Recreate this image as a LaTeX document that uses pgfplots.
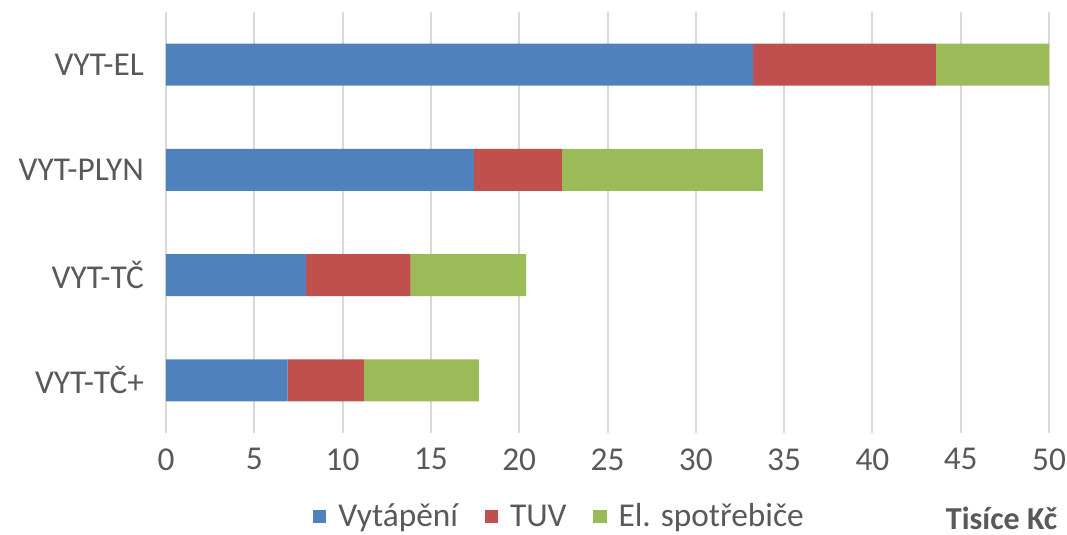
\documentclass[border=0pt]{standalone}
\usepackage{pgfplots}
\pgfplotsset{compat=1.18}
\usepackage{fontspec}
\setmainfont{Carlito}
\definecolor{cblue}{HTML}{4F81BD}
\definecolor{cred}{HTML}{C0504D}
\definecolor{cgreen}{HTML}{9BBB59}
\definecolor{cgrid}{HTML}{D9D9D9}
\definecolor{ctext}{HTML}{595959}
\begin{document}
\begin{tikzpicture}
\clip (-124.5pt,-76.5pt) rectangle (675.75pt,324.75pt);
\begin{axis}[
  at={(0,0)}, anchor=south west,
  scale only axis,
  width=662.25pt, height=315.75pt,
  xbar stacked,
  bar width=31.5pt,
  xmin=0, xmax=50,
  ymin=-0.5, ymax=3.5,
  y dir=reverse,
  ytick={0,1,2,3},
  yticklabels={VYT-EL,VYT-PLYN,VYT-TČ,VYT-TČ+},
  xtick={0,5,...,50},
  xmajorgrids,
  grid style={cgrid, line width=1.5pt},
  axis line style={draw=none},
  major tick length=0pt,
  tick label style={font=\fontsize{25}{29}\selectfont, text=ctext},
  xticklabel style={yshift=-8pt},
  yticklabel style={xshift=-13pt},
  /pgf/number format/assume math mode=true,
  legend style={draw=none, font=\fontsize{25}{29}\selectfont, text=ctext,
    at={(0.446,-0.198)}, anchor=center, legend columns=-1,
    /tikz/every odd column/.append style={column sep=7pt},
    /tikz/every even column/.append style={column sep=18pt}},
  legend image code/.code={\fill[#1] (0pt,-5pt) rectangle (10pt,5pt);},
]
\addplot+[draw=none, fill=cblue] coordinates {(33.24,0) (17.44,1) (7.93,2) (6.89,3)};
\addplot+[draw=none, fill=cred] coordinates {(10.36,0) (4.98,1) (5.92,2) (4.32,3)};
\addplot+[draw=none, fill=cgreen] coordinates {(6.50,0) (11.38,1) (6.54,2) (6.51,3)};
\legend{Vytápění,TUV,El. spotřebiče}
\end{axis}
\node[anchor=base east, text=ctext, font=\fontsize{24}{28}\selectfont\bfseries] at (672pt,-72pt) {Tisíce Kč};
\end{tikzpicture}
\end{document}
